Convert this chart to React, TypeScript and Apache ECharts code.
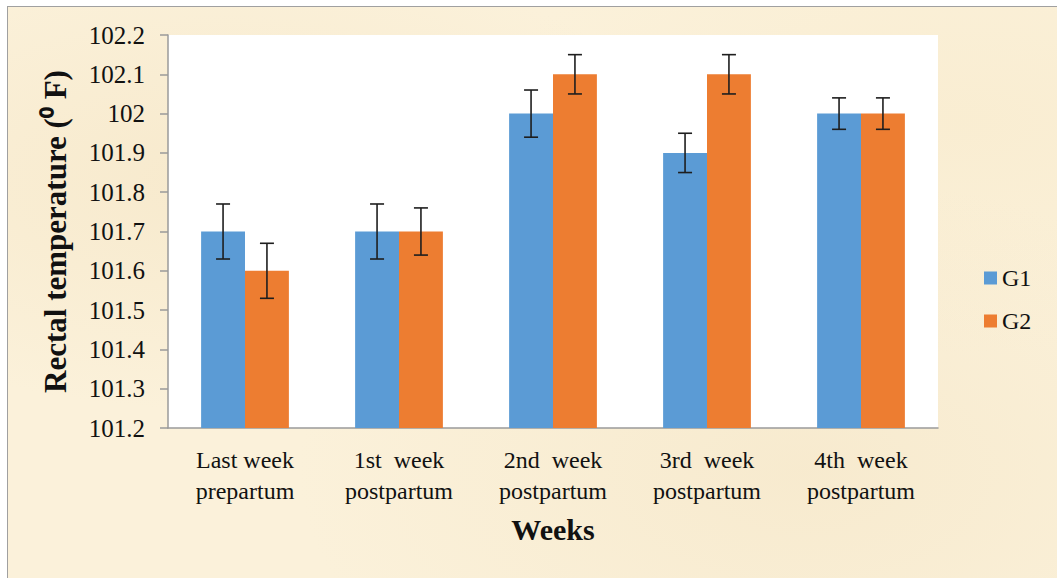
import React, { useEffect, useRef } from "react";
import * as echarts from "echarts";

const categories = [
  "Last week\nprepartum",
  "1st  week\npostpartum",
  "2nd  week\npostpartum",
  "3rd  week\npostpartum",
  "4th  week\npostpartum",
];
const g1Values = [101.7, 101.7, 102.0, 101.9, 102.0];
const g2Values = [101.6, 101.7, 102.1, 102.1, 102.0];
const g1Errors = [0.07, 0.07, 0.06, 0.05, 0.04];
const g2Errors = [0.07, 0.06, 0.05, 0.05, 0.04];
const seriesNames = ["G1", "G2"];
const yTitle = "Rectal temperature (\u2070 F)";
const xTitle = "Weeks";

const FONT = "'Liberation Serif', 'Times New Roman', serif";
const BLUE = "#5B9BD5";
const ORANGE = "#ED7D31";
const GAP = 0.43;

function errorSeries(name: string, values: number[], errors: number[], sign: number) {
  return {
    name,
    type: "custom",
    z: 5,
    silent: true,
    encode: { x: 0, y: 1 },
    data: values.map((v, i) => [i, v, errors[i]]),
    renderItem: (params: any, api: any) => {
      const idx = api.value(0);
      const val = api.value(1);
      const err = api.value(2);
      const band = api.size([1, 0])[0];
      const off = ((band * (1 - GAP)) / 4) * sign;
      const top = api.coord([idx, val + err]);
      const bot = api.coord([idx, val - err]);
      const x = top[0] + off;
      const cap = 7;
      const style = { stroke: "#1e1e1e", lineWidth: 1.6 };
      return {
        type: "group",
        children: [
          { type: "line", shape: { x1: x, y1: top[1], x2: x, y2: bot[1] }, style },
          { type: "line", shape: { x1: x - cap, y1: top[1], x2: x + cap, y2: top[1] }, style },
          { type: "line", shape: { x1: x - cap, y1: bot[1], x2: x + cap, y2: bot[1] }, style },
        ],
      };
    },
  };
}

export default function App() {
  const ref = useRef<HTMLDivElement>(null);
  useEffect(() => {
    document.body.style.margin = "0";
    const chart = echarts.init(ref.current!, null, { renderer: "svg" });
    chart.setOption({
      animation: false,
      backgroundColor: "transparent",
      textStyle: { fontFamily: FONT, color: "#111" },
      grid: {
        left: 168,
        top: 35,
        right: 119,
        bottom: 150,
        show: true,
        backgroundColor: "#ffffff",
        borderWidth: 0,
        containLabel: false,
        outerBoundsMode: "none",
      },
      legend: {
        data: seriesNames,
        orient: "vertical",
        left: 979,
        top: 261,
        itemWidth: 13,
        itemHeight: 13,
        itemGap: 19,
        icon: "rect",
        textStyle: { fontFamily: FONT, fontSize: 24, color: "#111" },
      },
      xAxis: {
        type: "category",
        data: categories,
        axisTick: { show: false },
        axisLine: { lineStyle: { color: "#9a9a9a", width: 1.5 } },
        axisLabel: {
          fontFamily: FONT,
          fontSize: 24,
          color: "#111",
          lineHeight: 31,
          margin: 16,
          interval: 0,
        },
        name: xTitle,
        nameLocation: "middle",
        nameGap: 86,
        nameTextStyle: { fontFamily: FONT, fontSize: 30, fontWeight: "bold", color: "#111" },
      },
      yAxis: {
        type: "value",
        min: 101.2,
        max: 102.2,
        interval: 0.1,
        splitLine: { show: false },
        axisLine: { show: true, lineStyle: { color: "#9a9a9a", width: 1.5 } },
        axisTick: { show: true, length: 8, lineStyle: { color: "#9a9a9a", width: 1.5 } },
        axisLabel: {
          fontFamily: FONT,
          fontSize: 25,
          color: "#111",
          margin: 23,
          formatter: (v: number) => String(Number(v.toFixed(1))),
        },
        name: yTitle,
        nameLocation: "middle",
        nameGap: 97,
        nameRotate: 90,
        nameTextStyle: { fontFamily: FONT, fontSize: 31, fontWeight: "bold", color: "#111" },
      },
      series: [
        {
          name: seriesNames[0],
          type: "bar",
          data: g1Values,
          barGap: "0%",
          barCategoryGap: "43%",
          itemStyle: { color: BLUE },
        },
        {
          name: seriesNames[1],
          type: "bar",
          data: g2Values,
          barGap: "0%",
          barCategoryGap: "43%",
          itemStyle: { color: ORANGE },
        },
        errorSeries("G1 error", g1Values, g1Errors, -1),
        errorSeries("G2 error", g2Values, g2Errors, 1),
      ],
    });
    return () => chart.dispose();
  }, []);

  return (
    <div style={{ position: "fixed", left: 0, top: 0, width: 1057, height: 578, background: "#ffffff" }}>
      <div
        style={{
          position: "absolute",
          left: 7,
          top: 6,
          width: 1060,
          height: 580,
          borderLeft: "1.5px solid #a0a0a0",
          borderTop: "1.5px solid #a0a0a0",
          background:
            "radial-gradient(ellipse at 20% 30%, rgba(240,220,180,0.35), transparent 40%)," +
            "radial-gradient(ellipse at 75% 80%, rgba(240,222,185,0.35), transparent 45%)," +
            "radial-gradient(ellipse at 90% 20%, rgba(245,228,190,0.3), transparent 35%)," +
            "#fbf1da",
        }}
      />
      <div ref={ref} style={{ position: "absolute", left: 0, top: 0, width: 1057, height: 578 }} />
    </div>
  );
}
